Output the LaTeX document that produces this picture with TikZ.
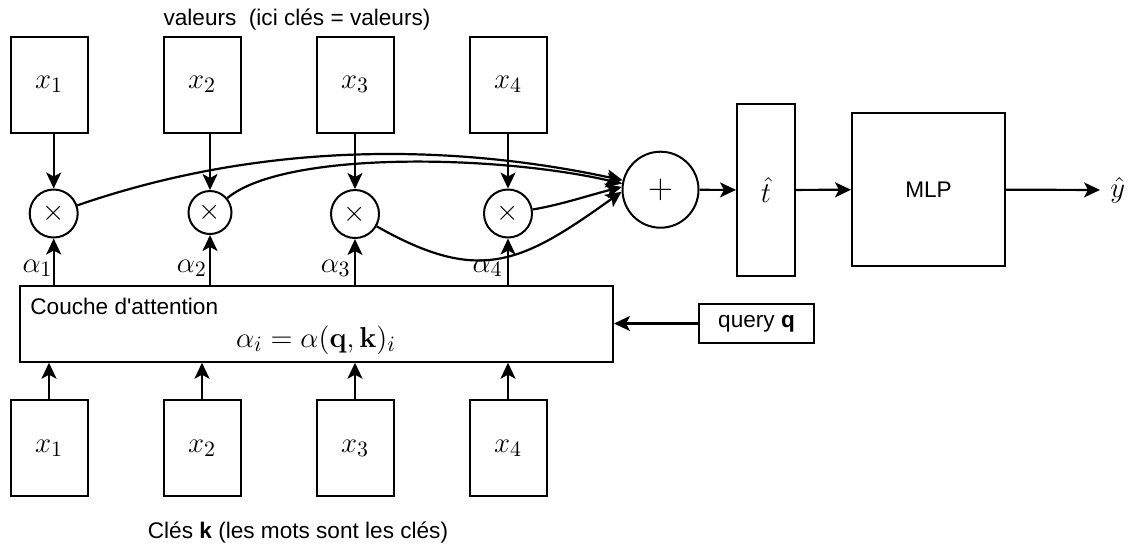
\documentclass[tikz,border=0pt]{standalone}
\usepackage[no-math]{fontspec}
\setmainfont{Liberation Sans}
\usetikzlibrary{arrows.meta}
\newcommand\mfont{\fontsize{15}{18}\selectfont}
\newcommand\tfont{\fontsize{11.3}{13.5}\selectfont}
\begin{document}
\begin{tikzpicture}[x=0.5pt,y=-0.5pt,
  every node/.style={font=\tfont},
  box/.style={draw,line width=1pt,inner sep=0pt},
  vbox/.style={box,minimum width=38.5pt,minimum height=48pt,font=\mfont},
  mult/.style={circle,draw,line width=1pt,inner sep=0pt,minimum size=24pt,font=\mfont},
  arr/.style={line width=1.1pt,-{Stealth[length=8pt,width=7.5pt,inset=2pt]}},
  alab/.style={font=\mfont,inner sep=0pt}]
\useasboundingbox (0,0) rectangle (1128,548);
% titles
\node (vt) at (297,20) {valeurs\ \ (ici clés = valeurs)};
\node (kt) at (298,533) {Clés \textbf{k} (les mots sont les clés)};
% value boxes
\node[vbox] (v1) at (49,84.5) {$x_1$};
\node[vbox] (v2) at (202,84.5) {$x_2$};
\node[vbox] (v3) at (355,84.5) {$x_3$};
\node[vbox] (v4) at (508,84.5) {$x_4$};
% multiplication circles
\node[mult] (m1) at (53.7,213.5) {$\times$};
\node[mult,minimum size=21.5pt] (m2) at (210,212.5) {$\times$};
\node[mult] (m3) at (355,214) {$\times$};
\node[mult] (m4) at (508,213.5) {$\times$};
% attention layer
\node[box,minimum width=296.3pt,minimum height=38pt] (att) at (316.7,323.7) {};
\node[anchor=west,inner sep=0pt] (attl) at (30,306) {Couche d\textquotesingle attention};
\node[font=\mfont,inner sep=0pt] (form) at (316,340) {$\alpha_i=\alpha(\mathbf{q},\mathbf{k})_i$};
% key boxes
\node[vbox] (k1) at (49,448) {$x_1$};
\node[vbox] (k2) at (202,448) {$x_2$};
\node[vbox] (k3) at (355,448) {$x_3$};
\node[vbox] (k4) at (508,448) {$x_4$};
% right part
\node[circle,draw,line width=1pt,inner sep=0pt,minimum size=38pt,font=\fontsize{16}{19}\selectfont] (plus) at (660.5,189.7) {$+$};
\node[box,minimum width=29pt,minimum height=86pt,font=\mfont] (t) at (766,190) {$\hat t$};
\node[box,minimum width=76.5pt,minimum height=76.5pt] (mlp) at (928.5,189.5) {MLP};
\node[box,minimum width=57.5pt,minimum height=19.5pt] (q) at (756.5,323.5) {query \textbf{q}};
\node[anchor=west,font=\mfont,inner xsep=5pt,inner ysep=1pt] (y) at (1100,190) {$\hat y$};
% alpha labels
\node[alab] (a1) at (37.5,268) {$\alpha_1$};
\node[alab] (a2) at (191.8,268) {$\alpha_2$};
\node[alab] (a3) at (335.7,268) {$\alpha_3$};
\node[alab] (a4) at (487.5,268) {$\alpha_4$};
% arrows values -> mult
\draw[arr] (v1.south -| m1) -- (m1);
\draw[arr] (v2.south -| m2) -- (m2);
\draw[arr] (v3.south -| m3) -- (m3);
\draw[arr] (v4.south -| m4) -- (m4);
% arrows attention -> mult
\draw[arr] (att.north -| m1) -- (m1);
\draw[arr] (att.north -| m2) -- (m2);
\draw[arr] (att.north -| m3) -- (m3);
\draw[arr] (att.north -| m4) -- (m4);
% keys -> attention
\draw[arr] (k1.north) -- (k1.north |- att.south);
\draw[arr] (k2.north) -- (k2.north |- att.south);
\draw[arr] (k3.north) -- (k3.north |- att.south);
\draw[arr] (k4.north) -- (k4.north |- att.south);
% query -> attention
\draw[arr] (q.west) -- (q.west -| att.east);
% curves to plus
\draw[arr] (m1) .. controls (278,136) and (471,147.5) .. (plus.166);
\draw[arr] (m2) .. controls (285,150) and (500,155) .. (plus.171);
\draw[arr] (m3) .. controls (480,285) and (522,263) .. (plus.183);
\draw[arr] (m4) .. controls (560,205) and (590,195) .. (plus.176);
% chain
\draw[arr] (plus) -- (t);
\draw[arr] (t) -- (mlp);
\draw[arr] (mlp) -- (y);
\end{tikzpicture}
\end{document}
